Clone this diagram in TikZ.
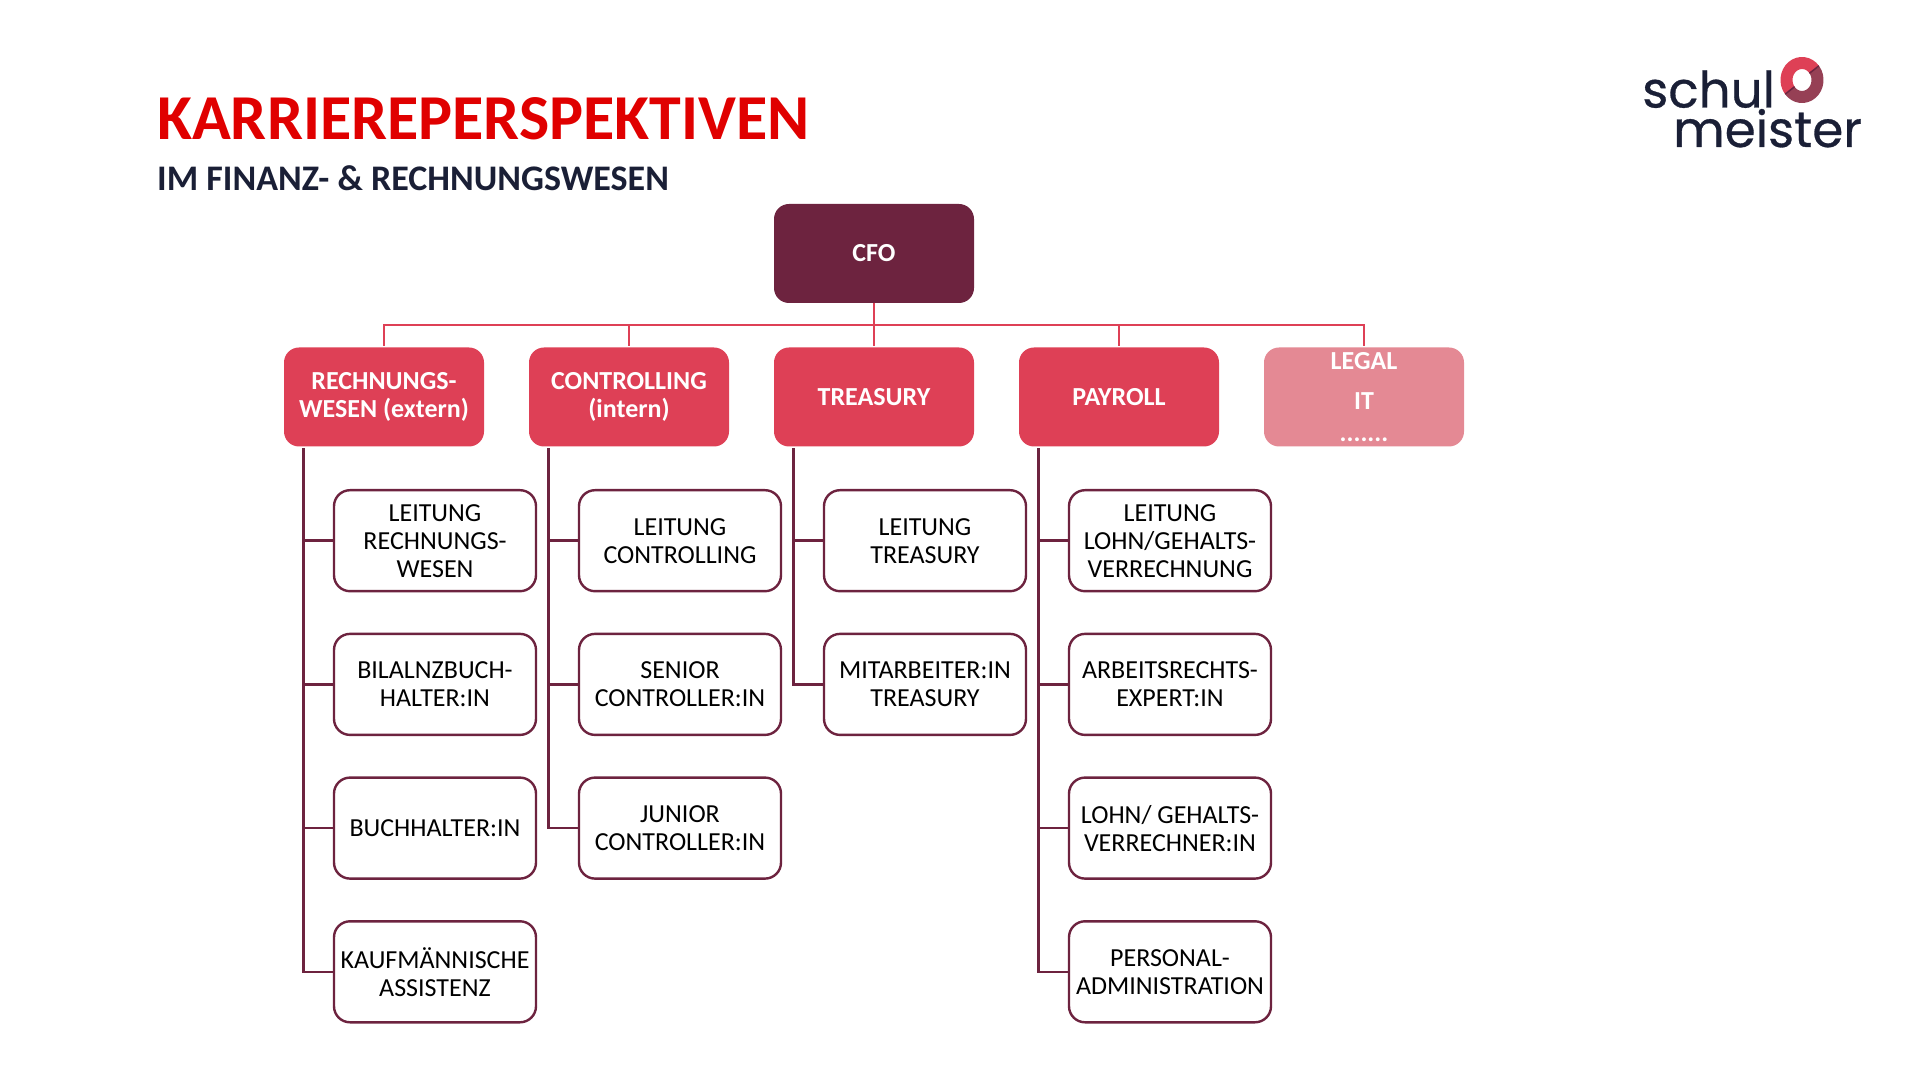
\documentclass[tikz,border=0pt]{standalone}
\usepackage{fontspec}
\setmainfont{Carlito}
\newfontfamily\logofont[FakeBold=0.6]{Poppins}
\usetikzlibrary{positioning}
\definecolor{cfored}{HTML}{E00000}
\definecolor{inkblue}{HTML}{1A1F36}
\definecolor{wine}{HTML}{6D233F}
\definecolor{rose}{HTML}{DE4056}
\definecolor{palerose}{HTML}{E48994}
\definecolor{logodark}{HTML}{964055}
\begin{document}
\begin{tikzpicture}[x=1pt,y=1pt,
    node distance=45pt,
    headbox/.style={fill=rose,text=white,rounded corners=15pt,outer sep=0pt,minimum width=200pt,minimum height=99pt,inner sep=0pt,align=center,font=\fontsize{26}{28.5}\selectfont\bfseries},
    jobbox/.style={draw=wine,line width=2.4pt,fill=white,text=black,rounded corners=16pt,outer sep=0pt,minimum width=202pt,minimum height=101pt,inner sep=0pt,align=center,font=\fontsize{26}{28}\selectfont},
    busline/.style={draw=rose,line width=2.4pt,shorten >=1.5pt},
    trunkline/.style={draw=wine,line width=2.4pt,shorten <=2pt}]
      \useasboundingbox (0,0) rectangle (1920,1080);
      \node[anchor=base west,inner sep=0pt,text=cfored,font=\fontsize{64}{64}\selectfont\bfseries] (title) at (157,940) {KARRIEREPERSPEKTIVEN};
      \node[anchor=base west,inner sep=0pt,text=inkblue,font=\fontsize{36}{36}\selectfont\bfseries] (subtitle) at (157,889) {IM FINANZ- \& RECHNUNGSWESEN};
      \node[anchor=base west,inner sep=0pt,align=left,text=inkblue,font=\logofont\fontsize{50}{37}\selectfont] (logo) at (1642,933) {schul\\\hspace{31pt}meister};
      \draw[rose,line width=12pt] (1802,1000)+(38:15.5 and 17) arc [start angle=38,end angle=218,x radius=15.5,y radius=17];
      \draw[logodark,line width=12pt] (1802,1000)+(218:15.5 and 17) arc [start angle=218,end angle=398,x radius=15.5,y radius=17];
      \draw[wine,line width=1.5pt] (1802,1000)+(38:9.5 and 11) -- +(38:21.5 and 23);
      \draw[wine,line width=1.5pt] (1802,1000)+(218:9.5 and 11) -- +(218:21.5 and 23);

      \node[headbox,fill=wine] (cfo) at (874,826.5) {CFO};
      \node[headbox] (tr) at (874,683) {TREASURY};
      \node[headbox,left=45pt of tr] (co) {CONTROLLING\\(intern)};
      \node[headbox,left=45pt of co] (rw) {RECHNUNGS-\\WESEN (extern)};
      \node[headbox,right=45pt of tr] (pa) {PAYROLL};
      \node[headbox,fill=palerose,right=45pt of pa] (le) {LEGAL\\[12pt]IT\\[3pt].......};

      \node[jobbox,below=43.7pt of rw.south,xshift=51pt] (rw1) {LEITUNG\\RECHNUNGS-\\WESEN};
      \node[jobbox,below=42.7pt of rw1] (rw2) {BILALNZBUCH-\\HALTER:IN};
      \node[jobbox,below=42.7pt of rw2] (rw3) {BUCHHALTER:IN};
      \node[jobbox,below=42.7pt of rw3] (rw4) {KAUFMÄNNISCHE\\ASSISTENZ};
      \node[jobbox,below=43.7pt of co.south,xshift=51pt] (co1) {LEITUNG\\CONTROLLING};
      \node[jobbox,below=42.7pt of co1] (co2) {SENIOR\\CONTROLLER:IN};
      \node[jobbox,below=42.7pt of co2] (co3) {JUNIOR\\CONTROLLER:IN};
      \node[jobbox,below=43.7pt of tr.south,xshift=51pt] (tr1) {LEITUNG\\TREASURY};
      \node[jobbox,below=42.7pt of tr1] (tr2) {MITARBEITER:IN\\TREASURY};
      \node[jobbox,below=43.7pt of pa.south,xshift=51pt] (pa1) {LEITUNG\\LOHN/GEHALTS-\\VERRECHNUNG};
      \node[jobbox,below=42.7pt of pa1] (pa2) {ARBEITSRECHTS-\\EXPERT:IN};
      \node[jobbox,below=42.7pt of pa2] (pa3) {LOHN/ GEHALTS-\\VERRECHNER:IN};
      \node[jobbox,below=42.7pt of pa3] (pa4) {PERSONAL-\\ADMINISTRATION};

      \draw[busline] (cfo.south) -- ++(0,-22pt) -| (rw.north);
      \draw[busline] (cfo.south) -- ++(0,-22pt) -| (co.north);
      \draw[busline] (cfo.south) -- (tr.north);
      \draw[busline] (cfo.south) -- ++(0,-22pt) -| (pa.north);
      \draw[busline] (cfo.south) -- ++(0,-22pt) -| (le.north);

      \coordinate[right=19.5pt of rw.south west] (rwt);
      \coordinate[right=19.5pt of co.south west] (cot);
      \coordinate[right=19.5pt of tr.south west] (trt);
      \coordinate[right=19.5pt of pa.south west] (pat);
      \draw[trunkline] (rwt) |- (rw1);
      \draw[trunkline] (rwt) |- (rw2);
      \draw[trunkline] (rwt) |- (rw3);
      \draw[trunkline] (rwt) |- (rw4);
      \draw[trunkline] (cot) |- (co1);
      \draw[trunkline] (cot) |- (co2);
      \draw[trunkline] (cot) |- (co3);
      \draw[trunkline] (trt) |- (tr1);
      \draw[trunkline] (trt) |- (tr2);
      \draw[trunkline] (pat) |- (pa1);
      \draw[trunkline] (pat) |- (pa2);
      \draw[trunkline] (pat) |- (pa3);
      \draw[trunkline] (pat) |- (pa4);
    \end{tikzpicture}
\end{document}
